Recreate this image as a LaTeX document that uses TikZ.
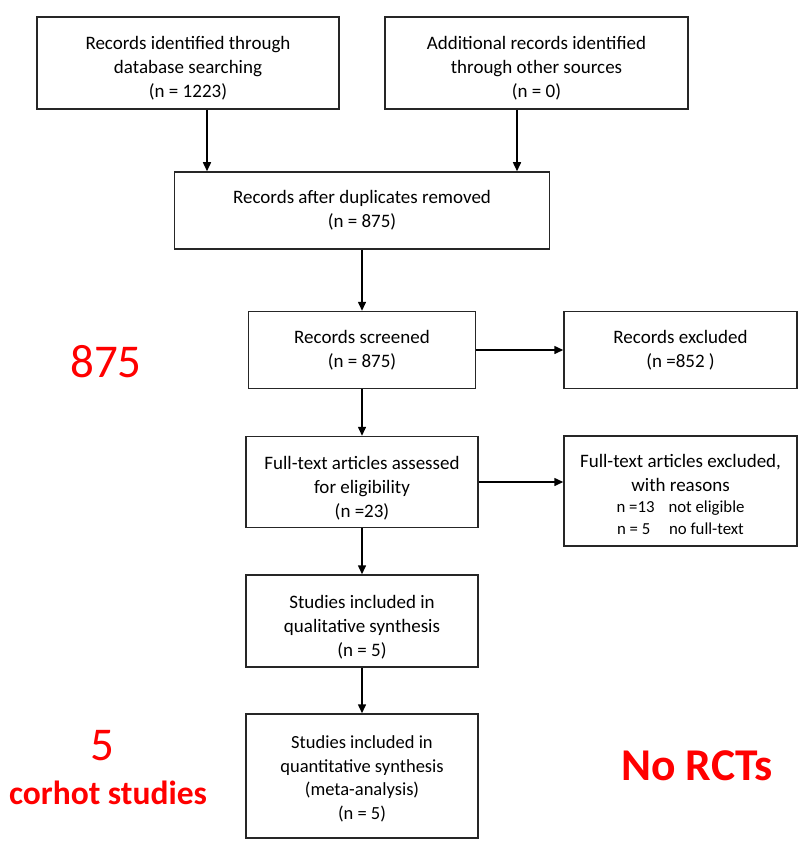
\documentclass[tikz,border=0pt]{standalone}
\usepackage{fontspec}
\setmainfont{Carlito}
\usetikzlibrary{arrows.meta}
% invisible strut that lowers a node's text block
\newcommand{\toppad}[1]{\rule{0pt}{#1}}
\newcommand{\reasonline}[2]{{\fontsize{16.8}{21}\selectfont\makebox[52pt][l]{#1}#2}}
\begin{document}
\begin{tikzpicture}[x=1pt,y=-1pt,
  box/.style={draw=black!85,line width=1.5pt,rectangle,align=center,inner sep=0pt,
              font=\fontsize{19}{24}\selectfont,text=black},
  smallbox/.style={box,font=\fontsize{18.5}{23.5}\selectfont},
  arr/.style={line width=1.5pt,draw=black,-{Triangle[length=9pt,width=8pt]}},
  note/.style={text=red,inner sep=0pt}]
\useasboundingbox (0,0) rectangle (802,842);

% identification
\node[box,minimum width=302pt,minimum height=92pt] (ident) at (188,63)
  {\toppad{24pt}Records identified through\\database searching\\(n = 1223)};
\node[box,minimum width=303pt,minimum height=92pt] (other) at (536.5,63)
  {\toppad{24pt}Additional records identified\\through other sources\\(n = 0)};
\node[box,minimum width=375pt,minimum height=77pt] (dedup) at (362,210.5)
  {Records after duplicates removed\\(n = 875)};

% screening
\node[box,minimum width=227pt,minimum height=77pt] (screen) at (362,350)
  {Records screened\\(n = 875)};
\node[box,minimum width=233pt,minimum height=77pt] (excl) at (680.5,350)
  {Records excluded\\(n =852 )};

% eligibility
\node[box,minimum width=232pt,minimum height=91pt] (full) at (362,482)
  {\toppad{26pt}Full-text articles assessed\\for eligibility\\(n =23)};
\node[box,minimum width=233pt,minimum height=110pt] (fullex) at (680.5,491)
  {\toppad{20pt}Full-text articles excluded,\\with reasons\\[-3pt]
   \reasonline{n =13}{not eligible}\\[-2pt]
   \reasonline{n = 5}{no full-text}};

% included
\node[box,minimum width=232pt,minimum height=92pt] (qual) at (362,621)
  {\toppad{26pt}Studies included in\\qualitative synthesis\\(n = 5)};
\node[smallbox,minimum width=232pt,minimum height=124pt] (quant) at (362,776)
  {\toppad{19pt}Studies included in\\quantitative synthesis\\(meta-analysis)\\(n = 5)};

% connectors
\draw[arr] ([xshift=19pt]ident.south) -- ([xshift=19pt]ident.south |- dedup.north);
\draw[arr] ([xshift=-19.5pt]other.south) -- ([xshift=-19.5pt]other.south |- dedup.north);
\draw[arr] (dedup.south) -- (screen.north);
\draw[arr] (screen.east) -- (excl.west);
\draw[arr] (screen.south) -- (full.north);
\draw[arr] (full.east) -- (full.east -| fullex.west);
\draw[arr] (full.south) -- (qual.north);
\draw[arr] (qual.south) -- (quant.north);

% annotations
\node[note,font=\fontsize{47}{47}\selectfont] (nrec) at (106,362) {875};
\node[note,font=\fontsize{47}{47}\selectfont] (nfive) at (102,746) {5};
\node[note,font=\bfseries\fontsize{33.5}{33.5}\selectfont] (cohort) at (108,793) {corhot studies};
\node[note,font=\bfseries\fontsize{45.5}{45.5}\selectfont] (norct) at (697,766) {No RCTs};
\end{tikzpicture}
\end{document}
